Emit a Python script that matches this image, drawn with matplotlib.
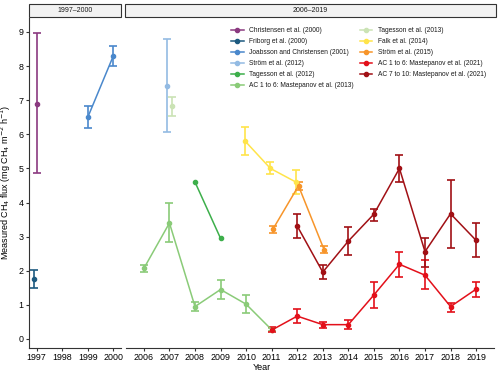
import numpy as np
import matplotlib
matplotlib.use("Agg")
from matplotlib import pyplot as plt
from matplotlib.patches import Rectangle
from matplotlib.lines import Line2D

plt.rcParams['font.family'] = ['Liberation Sans', 'DejaVu Sans']

# series: name -> years, mean, lower, upper (None = no error bars)
names = ["Christensen et al. (2000)", "Friborg et al. (2000)",
         "Joabsson and Christensen (2001)", "Ström et al. (2012)",
         "Tagesson et al. (2012)", "AC 1 to 6: Mastepanov et al. (2013)",
         "Tagesson et al. (2013)", "Falk et al. (2014)", "Ström et al. (2015)",
         "AC 1 to 6: Mastepanov et al. (2021)", "AC 7 to 10: Mastepanov et al. (2021)"]
colors = ["#8B3A80", "#1D5A80", "#4A88CC", "#93BBE3", "#3DAF4B", "#8ACB78",
          "#CBE3B5", "#FFE44A", "#F7952A", "#E3101A", "#A11015"]

christensen_yr = [1997]
christensen = [6.9]; christensen_lo = [4.87]; christensen_hi = [8.97]

friborg_yr = [1997]
friborg = [1.75]; friborg_lo = [1.48]; friborg_hi = [2.02]

joabsson_yr = [1999, 2000]
joabsson = [6.5, 8.3]; joabsson_lo = [6.18, 8.0]; joabsson_hi = [6.82, 8.6]

strom12_yr = [2007]
strom12 = [7.43]; strom12_lo = [6.08]; strom12_hi = [8.78]

tag12_yr = [2008, 2009]
tag12 = [4.6, 2.95]

ac13_yr = [2006, 2007, 2008, 2009, 2010, 2011]
ac13 = [2.07, 3.4, 0.95, 1.45, 1.02, 0.27]
ac13_lo = [1.97, 2.83, 0.82, 1.18, 0.77, 0.22]
ac13_hi = [2.17, 3.98, 1.07, 1.72, 1.28, 0.32]

tag13_yr = [2007]
tag13 = [6.82]; tag13_lo = [6.55]; tag13_hi = [7.1]

falk_yr = [2010, 2011, 2012]
falk = [5.81, 5.0, 4.6]
falk_lo = [5.4, 4.83, 4.25]
falk_hi = [6.2, 5.2, 4.96]

strom15_yr = [2011, 2012, 2013]
strom15 = [3.22, 4.49, 2.62]
strom15_lo = [3.12, 4.38, 2.52]
strom15_hi = [3.32, 4.6, 2.72]

ac21a_yr = [2011, 2012, 2013, 2014, 2015, 2016, 2017, 2018, 2019]
ac21a = [0.26, 0.67, 0.42, 0.42, 1.29, 2.19, 1.87, 0.95, 1.46]
ac21a_lo = [0.2, 0.46, 0.33, 0.28, 0.9, 1.82, 1.46, 0.79, 1.22]
ac21a_hi = [0.35, 0.87, 0.5, 0.55, 1.67, 2.54, 2.32, 1.06, 1.68]

ac21b_yr = [2012, 2013, 2014, 2015, 2016, 2017, 2018, 2019]
ac21b = [3.31, 1.96, 2.87, 3.66, 5.0, 2.56, 3.67, 2.89]
ac21b_lo = [2.96, 1.75, 2.45, 3.47, 4.6, 2.1, 2.68, 2.4]
ac21b_hi = [3.65, 2.17, 3.28, 3.8, 5.4, 2.97, 4.65, 3.39]

series = [
    (christensen_yr, christensen, christensen_lo, christensen_hi),
    (friborg_yr, friborg, friborg_lo, friborg_hi),
    (joabsson_yr, joabsson, joabsson_lo, joabsson_hi),
    (strom12_yr, strom12, strom12_lo, strom12_hi),
    (tag12_yr, tag12, None, None),
    (ac13_yr, ac13, ac13_lo, ac13_hi),
    (tag13_yr, tag13, tag13_lo, tag13_hi),
    (falk_yr, falk, falk_lo, falk_hi),
    (strom15_yr, strom15, strom15_lo, strom15_hi),
    (ac21a_yr, ac21a, ac21a_lo, ac21a_hi),
    (ac21b_yr, ac21b, ac21b_lo, ac21b_hi),
]
# small dodge offsets
dodge = [0.0, -0.1, 0.0, -0.1, 0.0, 0.0, 0.1, -0.05, 0.05, 0.0, 0.0]

fig = plt.figure(figsize=(5.0, 3.73), dpi=100)
axL = fig.add_axes([29/500, 25.5/373, 92/500, 329.5/373])
axR = fig.add_axes([126/500, 25.5/373, 368/500, 329.5/373])

for i, (yr, m, lo, hi) in enumerate(series):
    x = np.array(yr, dtype=float) + dodge[i]
    m = np.array(m)
    ax = axL if yr[0] < 2005 else axR
    if lo is not None:
        err = [m - np.array(lo), np.array(hi) - m]
        ax.errorbar(x, m, yerr=err, fmt='none', ecolor=colors[i], elinewidth=1.2,
                    capsize=2.8, capthick=1.2, zorder=2)
    ax.plot(x, m, '-', color=colors[i], lw=1.1, marker='o', ms=3, zorder=3)

for ax in (axL, axR):
    ax.set_ylim(-0.25, 9.41)
    ax.spines['top'].set_visible(False)
    ax.spines['right'].set_visible(False)
    ax.spines['bottom'].set_color('#333333')
    ax.spines['left'].set_color('#333333')
    ax.tick_params(labelsize=6.4, colors='#333333', labelcolor='black', length=2.5,
                   width=0.8, pad=1.5)

axL.set_xlim(1996.7, 2000.3)
axL.set_xticks([1997, 1998, 1999, 2000])
axL.set_yticks(range(0, 10))
axL.set_ylabel("Measured CH$_4$ flux (mg CH$_4$ m$^{-2}$ h$^{-1}$)", fontsize=6.5, labelpad=4)

axR.set_xlim(2005.3, 2019.7)
axR.set_xticks(range(2006, 2020))
axR.spines['left'].set_visible(False)
axR.tick_params(axis='y', left=False, labelleft=False)

fig.text(262/500, 1.5/373, "Year", fontsize=6.5, ha='center', va='bottom')

# facet strips
for x0, x1, lab in [(29, 121, "1997\u20132000"), (125, 496, "2006\u20132019")]:
    fig.patches.append(Rectangle((x0/500, (373-17)/373), (x1-x0)/500, 13/373,
                                 transform=fig.transFigure, facecolor='#F2F2F2',
                                 edgecolor='#333333', lw=0.8))
    fig.text((x0+x1)/2/500, (373-10.5)/373, lab, fontsize=5, ha='center', va='center',
             color='#1A1A1A')

handles = [Line2D([0], [0], color=c, lw=1.1, marker='o', ms=3) for c in colors]
leg = axR.legend(handles, names, loc='upper left', bbox_to_anchor=(0.285, 0.972), ncol=2,
                 fontsize=4.8, frameon=False, handlelength=1.9, handletextpad=0.8,
                 labelspacing=0.6, columnspacing=0.9, borderaxespad=0, borderpad=0)
for t in leg.get_texts():
    t.set_color('#1A1A1A')

fig.savefig("out.png", dpi=100)
